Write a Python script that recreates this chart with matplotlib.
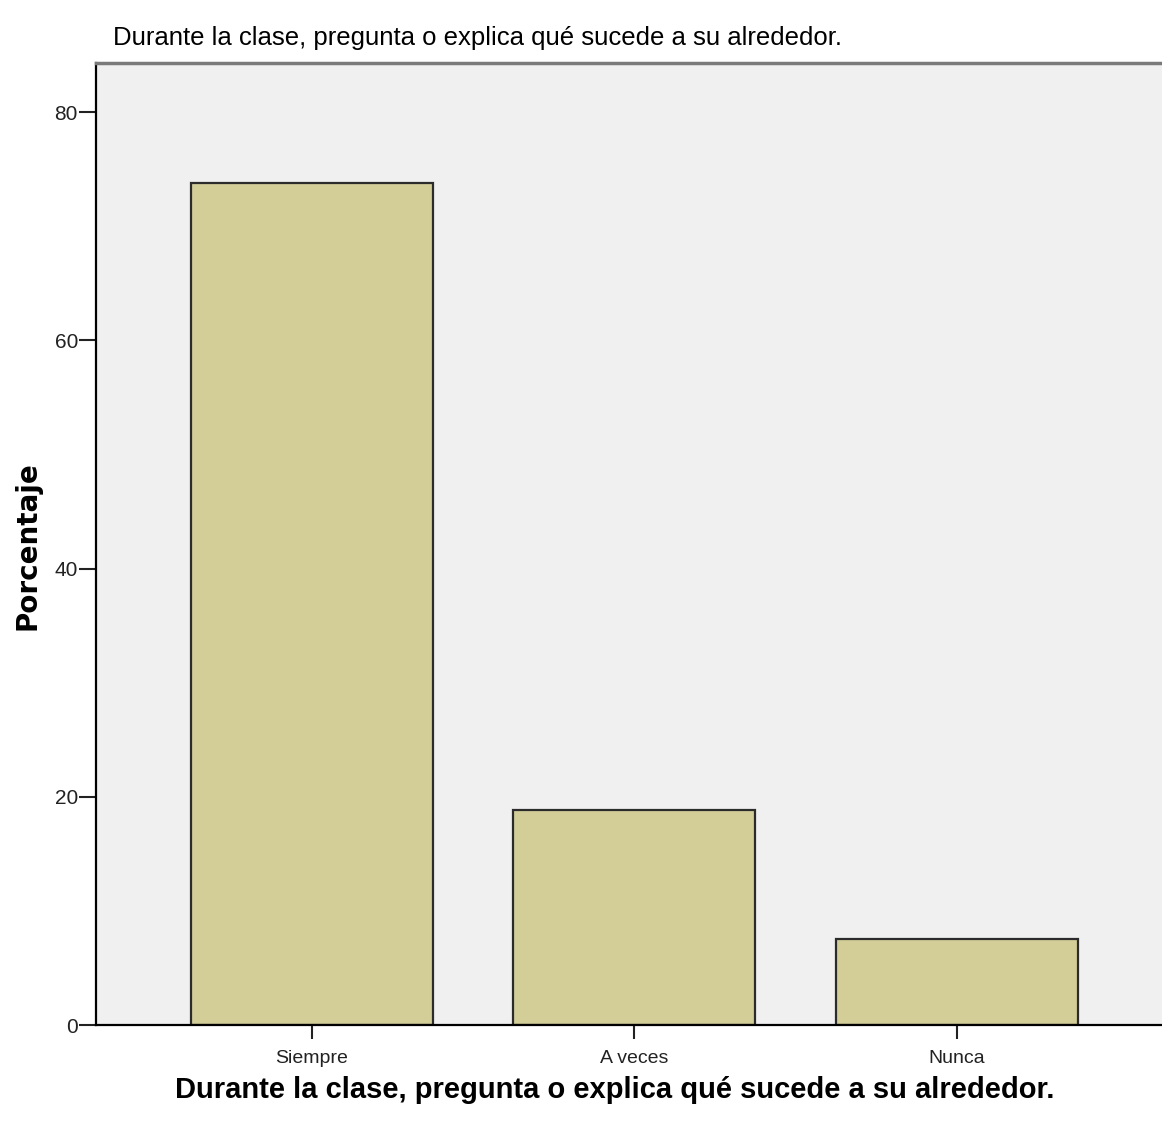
import matplotlib.pyplot as plt
import numpy as np

# datos
categorias = ['Siempre', 'A veces', 'Nunca']
porcentajes = [73.8, 18.8, 7.5]
titulo = 'Durante la clase, pregunta o explica qué sucede a su alrededor.'

fuente = ['Liberation Sans', 'Arial', 'DejaVu Sans']
plt.rcParams['font.family'] = fuente

fig = plt.figure(figsize=(11.62, 11.31), dpi=100)
ax = fig.add_axes([0.0826, 0.0937, 0.9174, 0.8506])
ax.set_facecolor('#F0F0F0')

x = np.arange(len(categorias))
ax.bar(x, porcentajes, width=0.75, color='#D3CD98', edgecolor='#2b2b2b', linewidth=1.6, zorder=2)

ax.set_xlim(-0.669, 2.635)
ax.set_ylim(0, 84.3)
ax.set_yticks([0, 20, 40, 60, 80])
ax.set_xticks(x)
ax.set_xticklabels(categorias, fontsize=14)
ax.tick_params(axis='y', length=12, width=1.5, pad=1, labelsize=15, colors='#222222')
ax.tick_params(axis='x', length=10, width=1.5, pad=8, colors='#222222')

ax.spines['right'].set_visible(False)
ax.spines['top'].set_color('#7a7a7a')
ax.spines['top'].set_linewidth(2.5)
ax.spines['left'].set_linewidth(1.6)
ax.spines['bottom'].set_linewidth(1.6)

fig.text(0.411, 0.966, titulo, fontsize=18.5, ha='center', va='center')
fig.text(0.529, 0.036, titulo, fontsize=21, fontweight='bold', ha='center', va='center')
fig.text(0.024, 0.518, 'Porcentaje', family='DejaVu Sans', fontsize=20, fontweight='bold',
         rotation=90, ha='center', va='center')

plt.savefig('out.png', dpi=100)
